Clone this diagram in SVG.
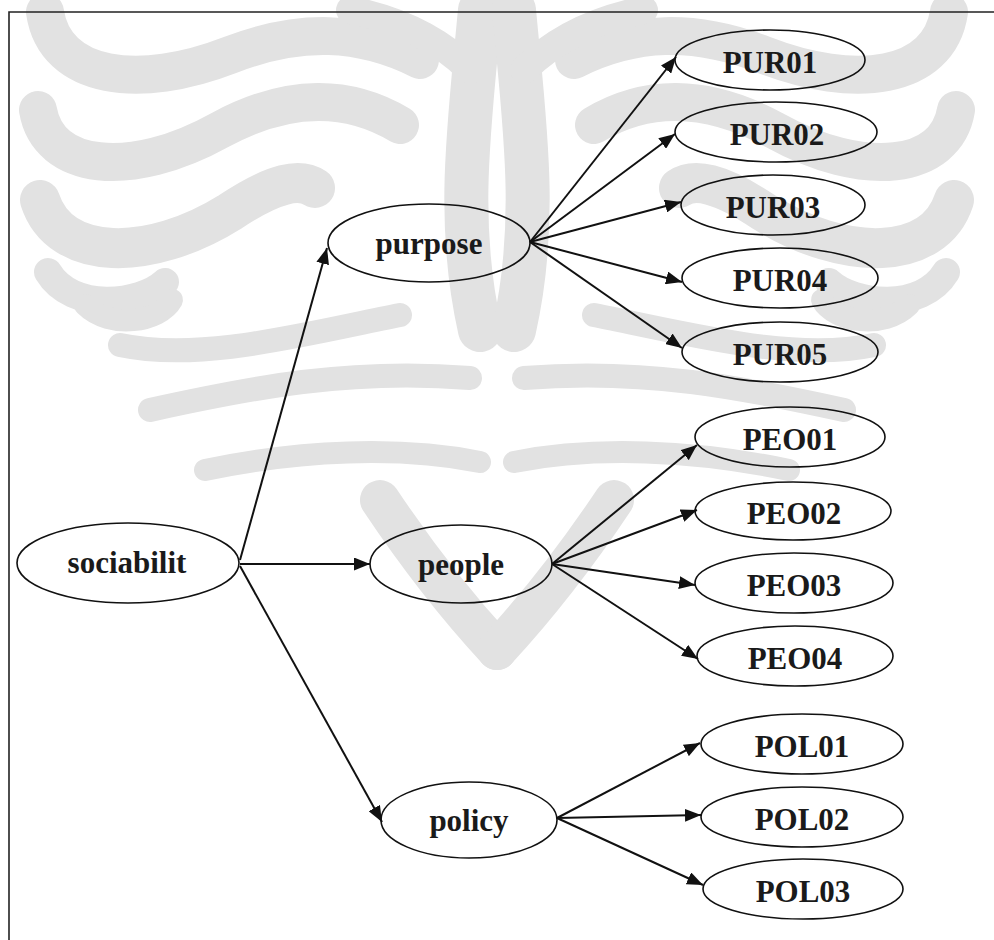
<svg xmlns="http://www.w3.org/2000/svg" xmlns:xlink="http://www.w3.org/1999/xlink" width="994" height="940" viewBox="0 0 994 940">
  <style>
    .node ellipse { fill: none; stroke: #111; stroke-width: 1.6; }
    .node text { font-family: "Liberation Serif", "Times New Roman", serif; font-weight: bold; font-size: 31px; fill: #1a1a1a; text-anchor: middle; }
    .edge { stroke: #111; stroke-width: 2; fill: none; marker-end: url(#arrow); }
    .frame { stroke: #222; stroke-width: 1.6; fill: none; }
    .wm path { fill: none; stroke: #e2e2e2; stroke-linecap: round; }
  </style>
  <defs>
    <marker id="arrow" markerUnits="userSpaceOnUse" markerWidth="17" markerHeight="13" refX="16" refY="6.5" orient="auto">
      <path d="M0,0 L16,6.5 L0,13 z" fill="#111"/>
    </marker>
  </defs>

  <rect width="994" height="940" fill="#ffffff"/>

  <!-- faint background emblem, left half mirrored to the right -->
  <g class="wm">
    <g id="wm-half">
      <path d="M45 12 C55 80 140 90 230 55 C300 28 360 30 420 60" stroke-width="38"/>
      <path d="M38 110 C48 170 130 180 220 130 C290 92 350 95 400 125" stroke-width="38"/>
      <path d="M40 200 C60 262 150 262 230 212 C275 182 300 178 315 188" stroke-width="40"/>
      <path d="M48 272 C72 312 140 305 165 282" stroke-width="28"/>
      <path d="M85 305 C110 330 160 322 172 300" stroke-width="22"/>
      <path d="M120 345 C200 362 300 335 400 315" stroke-width="24"/>
      <path d="M150 410 C250 388 350 368 470 378" stroke-width="24"/>
      <path d="M205 470 C300 450 400 446 480 462" stroke-width="22"/>
      <path d="M480 10 C470 120 455 220 480 330" stroke-width="44"/>
      <path d="M380 500 C420 560 460 610 497 650" stroke-width="40"/>
      <path d="M350 10 C400 20 440 40 470 70" stroke-width="28"/>
    </g>
    <use xlink:href="#wm-half" transform="translate(994,0) scale(-1,1)"/>
  </g>

  <!-- page frame -->
  <path class="frame" d="M9 940 L9 12 L994 12"/>

  <g id="connectors">
    <path class="edge" d="M240 560 L327 248"/>
    <path class="edge" d="M240 564 L370 564"/>
    <path class="edge" d="M240 566 L382 822"/>
    <path class="edge" d="M530 242 L676 57"/>
    <path class="edge" d="M530 242 L675 134"/>
    <path class="edge" d="M530 242 L681 202"/>
    <path class="edge" d="M530 242 L682 282"/>
    <path class="edge" d="M530 242 L682 348"/>
    <path class="edge" d="M552 564 L697 445"/>
    <path class="edge" d="M552 564 L697 510"/>
    <path class="edge" d="M552 564 L695 585"/>
    <path class="edge" d="M552 564 L698 659"/>
    <path class="edge" d="M557 818 L700 743"/>
    <path class="edge" d="M557 818 L701 815"/>
    <path class="edge" d="M557 818 L703 885"/>
  </g>

  <g id="sociabilit" class="node"><ellipse cx="128" cy="563" rx="111" ry="40"/><text x="127" y="573">sociabilit</text></g>
  <g id="purpose" class="node"><ellipse cx="429" cy="243" rx="101" ry="39"/><text x="429" y="254">purpose</text></g>
  <g id="people" class="node"><ellipse cx="461" cy="564" rx="91" ry="39"/><text x="461" y="575">people</text></g>
  <g id="policy" class="node"><ellipse cx="469" cy="820" rx="88" ry="38"/><text x="469" y="831">policy</text></g>

  <g id="PUR01" class="node"><ellipse cx="770" cy="60" rx="95" ry="30"/><text x="770" y="73">PUR01</text></g>
  <g id="PUR02" class="node"><ellipse cx="776" cy="132" rx="101" ry="30"/><text x="777" y="145">PUR02</text></g>
  <g id="PUR03" class="node"><ellipse cx="773" cy="205" rx="92" ry="30"/><text x="773" y="218">PUR03</text></g>
  <g id="PUR04" class="node"><ellipse cx="780" cy="278" rx="98" ry="30"/><text x="780" y="291">PUR04</text></g>
  <g id="PUR05" class="node"><ellipse cx="780" cy="352" rx="98" ry="30"/><text x="780" y="365">PUR05</text></g>

  <g id="PEO01" class="node"><ellipse cx="790" cy="437" rx="95" ry="30"/><text x="790" y="450">PEO01</text></g>
  <g id="PEO02" class="node"><ellipse cx="793" cy="511" rx="98" ry="29"/><text x="794" y="524">PEO02</text></g>
  <g id="PEO03" class="node"><ellipse cx="794" cy="583" rx="99" ry="30"/><text x="794" y="596">PEO03</text></g>
  <g id="PEO04" class="node"><ellipse cx="795" cy="656" rx="98" ry="30"/><text x="795" y="669">PEO04</text></g>

  <g id="POL01" class="node"><ellipse cx="802" cy="744" rx="101" ry="30"/><text x="802" y="757">POL01</text></g>
  <g id="POL02" class="node"><ellipse cx="802" cy="817" rx="101" ry="30"/><text x="802" y="830">POL02</text></g>
  <g id="POL03" class="node"><ellipse cx="803" cy="889" rx="100" ry="30"/><text x="803" y="902">POL03</text></g>
</svg>
